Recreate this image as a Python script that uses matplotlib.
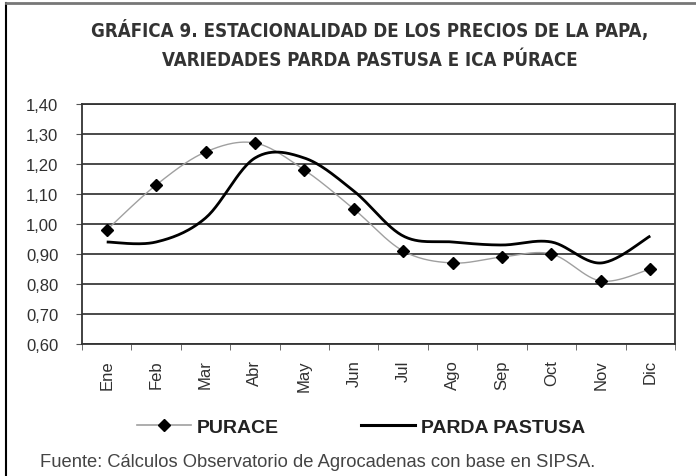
import numpy as np
import matplotlib
matplotlib.use("Agg")
import matplotlib.pyplot as plt
from matplotlib.lines import Line2D

# datos
meses = ["Ene", "Feb", "Mar", "Abr", "May", "Jun",
         "Jul", "Ago", "Sep", "Oct", "Nov", "Dic"]
purace = [0.98, 1.13, 1.24, 1.27, 1.18, 1.05, 0.91, 0.87, 0.89, 0.90, 0.81, 0.85]
parda_pastusa = [0.94, 0.94, 1.02, 1.22, 1.22, 1.11, 0.96, 0.94, 0.93, 0.94, 0.87, 0.96]
y_ticks = [0.60, 0.70, 0.80, 0.90, 1.00, 1.10, 1.20, 1.30, 1.40]

titulo_1 = "GRÁFICA 9. ESTACIONALIDAD DE LOS PRECIOS DE LA PAPA,"
titulo_2 = "VARIEDADES PARDA PASTUSA E ICA PÚRACE"
fuente = "Fuente: Cálculos Observatorio de Agrocadenas con base en SIPSA."


def suavizar(y, n=30):
    """
    Linea suavizada tipo Excel (Bezier de Catmull-Rom)
    """
    y = np.asarray(y, dtype=float)
    x = np.arange(len(y), dtype=float)
    pts = np.column_stack([x, y])
    pts_ext = np.vstack([pts[0], pts, pts[-1]])
    t = np.linspace(0, 1, n)[:, None]
    out = []
    for i in range(len(pts) - 1):
        p0, p1, p2, p3 = pts_ext[i], pts_ext[i + 1], pts_ext[i + 2], pts_ext[i + 3]
        c1 = p1 + (p2 - p0) / 6.0
        c2 = p2 - (p3 - p1) / 6.0
        seg = ((1 - t) ** 3) * p1 + 3 * ((1 - t) ** 2) * t * c1 \
            + 3 * (1 - t) * t ** 2 * c2 + t ** 3 * p2
        out.append(seg if i == 0 else seg[1:])
    seg = np.vstack(out)
    return seg[:, 0], seg[:, 1]


def fmt(v):
    return f"{v:.2f}".replace(".", ",")


fig = plt.figure(figsize=(6.96, 4.77), dpi=100)
ax = fig.add_axes([82 / 696, 132 / 477, 593 / 696, 240 / 477])

sans = ["Liberation Sans", "DejaVu Sans"]

# rejilla
for v in y_ticks:
    ax.axhline(v, color="#3c3c3c", lw=1.3, zorder=1)

x = np.arange(len(meses))
xs, ys = suavizar(purace)
ax.plot(xs, ys, color="#a0a0a0", lw=1.0, zorder=2)
ax.plot(x, purace, ls="none", marker="D", ms=6.5, color="black", zorder=3)

xs, ys = suavizar(parda_pastusa)
ax.plot(xs, ys, color="black", lw=2.0, zorder=4, solid_capstyle="butt")

ax.set_xlim(-0.5, len(meses) - 0.5)
ax.set_ylim(0.60, 1.40)
ax.set_yticks(y_ticks)
ax.set_yticklabels([fmt(v) for v in y_ticks], fontsize=12, color="#303030",
                   family=sans)
ax.set_xticks(x)
ax.set_xticklabels(meses, rotation=90, fontsize=12, color="#303030", family=sans)
ax.set_xticks(np.arange(-0.5, len(meses)), minor=True)
ax.tick_params(axis="x", which="major", length=0, pad=11)
ax.tick_params(axis="x", which="minor", length=4, color="#555555")
ax.tick_params(axis="y", length=4, pad=13, color="#555555")

for s in ax.spines.values():
    s.set_color("#333333")
    s.set_linewidth(1.3)

# titulo
kw_tit = dict(ha="center", va="center", fontweight="bold", color="#333333",
              family=["DejaVu Sans"], fontstretch="condensed", fontsize=13.4)
fig.text(370 / 696, 1 - 30 / 477, titulo_1, **kw_tit)
fig.text(370 / 696, 1 - 60 / 477, titulo_2, **kw_tit)

# leyenda
h1 = Line2D([], [], color="#a0a0a0", lw=1.2, marker="D", ms=6.5,
            markerfacecolor="black", markeredgecolor="black")
h2 = Line2D([], [], color="black", lw=2.2)
fig.legend([h1, h2], ["PURACE", "PARDA PASTUSA"], loc="center",
           bbox_to_anchor=(361 / 696, 1 - 428 / 477), ncol=2, frameon=False,
           handlelength=2.8, handletextpad=0.3, columnspacing=4.2,
           prop={"family": sans, "weight": "bold", "size": 14})
for t in fig.legends[0].get_texts():
    t.set_color("#222222")

fig.text(40 / 696, 1 - 463 / 477, fuente, ha="left", va="center",
         fontsize=13.2, color="#444444", family=sans)

# marco de la figura (izquierda y arriba)
fig.add_artist(Line2D([6 / 696, 6 / 696], [0, 1 - 4 / 477], color="black", lw=1.5))
fig.add_artist(Line2D([6 / 696, 1], [1 - 4 / 477, 1 - 4 / 477], color="#777777", lw=2.0))

fig.savefig("out.png", dpi=100)
